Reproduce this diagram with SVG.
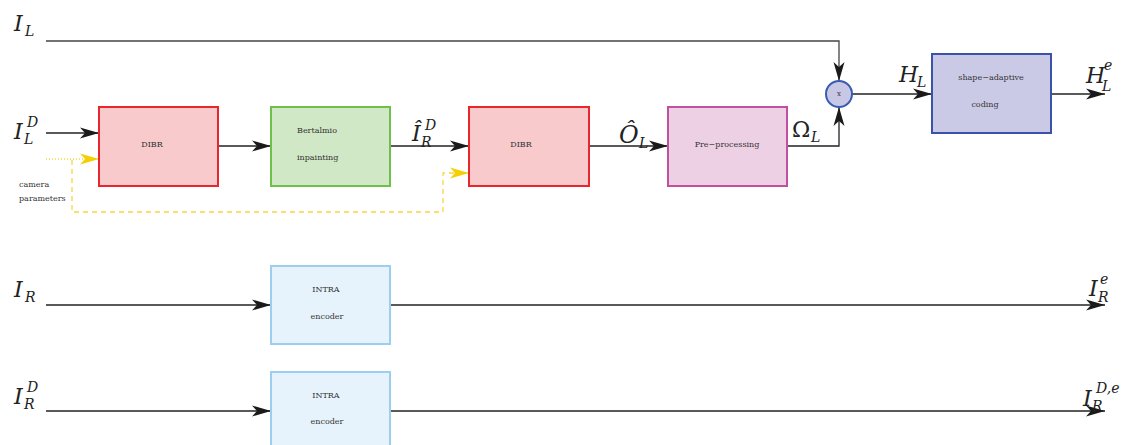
<svg xmlns="http://www.w3.org/2000/svg" width="1121" height="445" viewBox="0 0 1121 445">
<defs>
<marker id="ar" markerUnits="userSpaceOnUse" markerWidth="20" markerHeight="12" refX="19" refY="6" orient="auto">
<path d="M0,0.5 L19,6 L0,11.5 L5,6 z" fill="#1a1a1a"/>
</marker>
<marker id="ay" markerUnits="userSpaceOnUse" markerWidth="20" markerHeight="12" refX="19" refY="6" orient="auto">
<path d="M0,0.5 L19,6 L0,11.5 L5,6 z" fill="#f5cf00"/>
</marker>
<style>
.ln{fill:none;stroke:#222;stroke-width:1.3}
.yd{fill:none;stroke:#f8d840;stroke-width:1.3;stroke-dasharray:5,4}
.yt{fill:none;stroke:#f8d840;stroke-width:1.3;stroke-dasharray:1,2}
.bx{stroke-width:2}
.t{font-family:"DejaVu Serif",serif;font-size:8px;fill:#333}
.m{font-family:"DejaVu Serif",serif;font-style:italic;font-size:22px;fill:#222}
.s{font-family:"DejaVu Serif",serif;font-style:italic;font-size:14px;fill:#222}
</style>
</defs>
<g id="connectors">
<path class="ln" d="M46,41 H839 V81" marker-end="url(#ar)" style="stroke:#444"/>
<path class="ln" d="M46,133 H99" marker-end="url(#ar)"/>
<path class="yt" d="M46,159 H99" marker-end="url(#ay)"/>
<path class="yd" d="M72,160 V212 H443 V173 H469" marker-end="url(#ay)"/>
<path class="ln" d="M218,146 H271" marker-end="url(#ar)"/>
<path class="ln" d="M390,146 H469" marker-end="url(#ar)"/>
<path class="ln" d="M589,146 H668" marker-end="url(#ar)"/>
<path class="ln" d="M787,146 H839 V107" marker-end="url(#ar)"/>
<path class="ln" d="M852,94 H932" marker-end="url(#ar)"/>
<path class="ln" d="M1051,94 H1105" marker-end="url(#ar)"/>
<path class="ln" d="M46,305 H271" marker-end="url(#ar)"/>
<path class="ln" d="M390,305 H1105" marker-end="url(#ar)"/>
<path class="ln" d="M46,411 H271" marker-end="url(#ar)"/>
<path class="ln" d="M390,411 H1105" marker-end="url(#ar)"/>
</g>
<g id="dibr1">
<rect class="bx" x="99" y="107" width="119" height="79" fill="#f8cacc" stroke="#e8262c"/>
<text class="t" x="152" y="147" text-anchor="middle">DIBR</text>
</g>
<g id="bertalmio">
<rect class="bx" x="271" y="107" width="119" height="79" fill="#d0e8c5" stroke="#6fc04a"/>
<text class="t" x="297" y="133">Bertalmio</text>
<text class="t" x="297" y="160">inpainting</text>
</g>
<g id="dibr2">
<rect class="bx" x="469" y="107" width="120" height="79" fill="#f8cacc" stroke="#e8262c"/>
<text class="t" x="521" y="147" text-anchor="middle">DIBR</text>
</g>
<g id="preprocessing">
<rect class="bx" x="668" y="107" width="119" height="79" fill="#eed0e4" stroke="#c050a0"/>
<text class="t" x="727" y="147" text-anchor="middle">Pre−processing</text>
</g>
<g id="multiplier">
<circle cx="839" cy="94" r="13" fill="#c8c8e6" stroke="#3a5cb0" stroke-width="2"/>
<text class="t" x="839" y="96" text-anchor="middle" style="font-size:7px">x</text>
</g>
<g id="shape-adaptive">
<rect class="bx" x="932" y="54" width="119" height="79" fill="#cbcae6" stroke="#3a52a8"/>
<text class="t" x="991" y="80" text-anchor="middle">shape−adaptive</text>
<text class="t" x="985" y="107" text-anchor="middle">coding</text>
</g>
<g id="intra1">
<rect class="bx" x="271" y="266" width="119" height="78" fill="#e6f3fc" stroke="#9ccfee"/>
<text class="t" x="326" y="292" text-anchor="middle">INTRA</text>
<text class="t" x="327" y="319" text-anchor="middle">encoder</text>
</g>
<g id="intra2">
<rect class="bx" x="271" y="372" width="119" height="80" fill="#e6f3fc" stroke="#9ccfee"/>
<text class="t" x="326" y="398" text-anchor="middle">INTRA</text>
<text class="t" x="327" y="424" text-anchor="middle">encoder</text>
</g>
<g id="labels">
<text class="m" x="14" y="31">I</text><text class="s" x="25" y="36">L</text>
<text class="m" x="14" y="139">I</text><text class="s" x="27" y="127">D</text><text class="s" x="24" y="144">L</text>
<text class="t" x="19" y="187">camera</text>
<text class="t" x="19" y="201">parameters</text>
<text class="m" x="412" y="141">Î</text><text class="s" x="425" y="130">D</text><text class="s" x="421" y="147">R</text>
<text class="m" x="619" y="143" style="font-size:24px">Ô</text><text class="s" x="639" y="148">L</text>
<text class="m" x="792" y="137" style="font-style:normal">Ω</text><text class="s" x="811" y="142">L</text>
<text class="m" x="899" y="82">H</text><text class="s" x="917" y="87">L</text>
<text class="m" x="1086" y="83">H</text><text class="s" x="1104" y="70">e</text><text class="s" x="1102" y="91">L</text>
<text class="m" x="14" y="297">I</text><text class="s" x="25" y="302">R</text>
<text class="m" x="14" y="404">I</text><text class="s" x="27" y="392">D</text><text class="s" x="24" y="409">R</text>
<text class="m" x="1089" y="296">I</text><text class="s" x="1100" y="284">e</text><text class="s" x="1098" y="302">R</text>
<text class="m" x="1083" y="406">I</text><text class="s" x="1096" y="393">D,e</text><text class="s" x="1092" y="411">R</text>
</g>
</svg>
